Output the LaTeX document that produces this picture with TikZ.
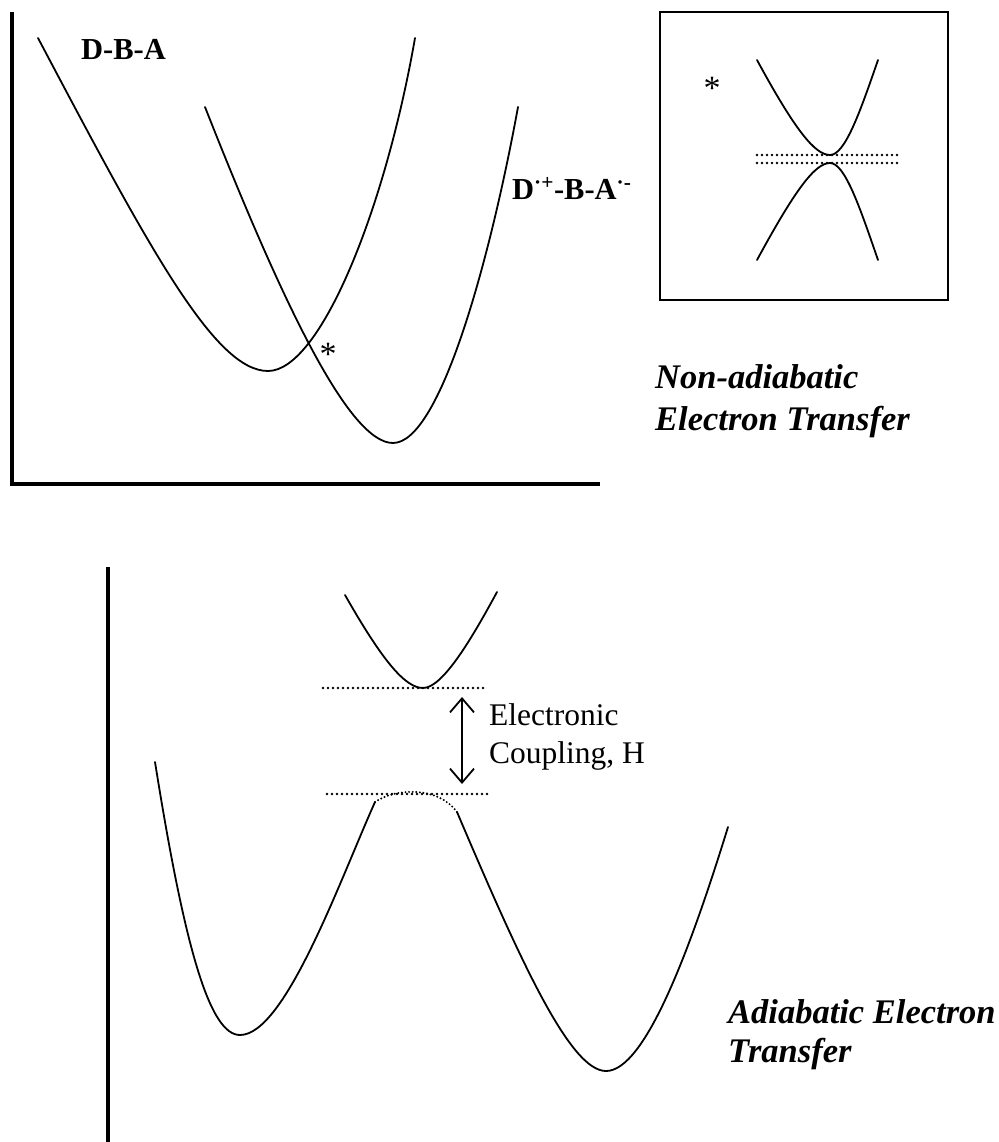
\documentclass[tikz,border=0pt]{standalone}
\usepackage{fontspec}
\setmainfont{Liberation Serif}
\usetikzlibrary{arrows.meta}
\tikzset{
  curve/.style={line width=1.8pt, line join=round, line cap=round},
  axis/.style={line width=3.4pt},
  dots/.style={line width=2.6pt, line cap=round, dash pattern=on 0pt off 5pt},
  lbl/.style={inner sep=0pt, anchor=base west},
  bigtitle/.style={lbl, font=\fontsize{34.5}{42}\selectfont\bfseries\itshape},
  statelbl/.style={lbl, font=\fontsize{30.5}{36}\selectfont\bfseries},
  plain/.style={lbl, font=\fontsize{31.5}{38}\selectfont},
  star/.style={inner sep=0pt, font=\fontsize{34}{38}\selectfont},
  barb/.tip={Straight Barb[length=14pt,width=24pt,line width=1.8pt]}
}
\begin{document}
\begin{tikzpicture}[x=1pt,y=-1pt]
\useasboundingbox (0,0) rectangle (998,1142);

% ---------- top panel ----------
\draw[axis] (12,12) -- (12,484) -- (600,484);

% D-B-A curve
\draw[curve] (38,38) .. controls (150,250) and (215,371) .. (268,371)
  .. controls (320,371) and (385,210) .. (415,38);
% D+-B-A- curve
\draw[curve] (205,107) .. controls (285,310) and (350,443) .. (393,443)
  .. controls (440,443) and (490,260) .. (518,107);

\node[star] (s1) at (328,354) {*};
\node[statelbl] (dba) at (81,60) {D-B-A};
\node[statelbl] (dpba) at (512,199) {D\textsuperscript{·+}-B-A\textsuperscript{·-}};

% inset
\draw[line width=1.8pt] (660,12) rectangle (948,300);
\draw[curve] (757,60) .. controls (795,130) and (815,155) .. (830,155)
  .. controls (845,155) and (860,112) .. (878,60);
\draw[curve] (757,260) .. controls (795,190) and (815,163) .. (830,163)
  .. controls (845,163) and (860,208) .. (878,260);
\draw[dots] (757,155) -- (897,155);
\draw[dots] (757,163) -- (897,163);
\node[star] (s2) at (712,88) {*};

\node[bigtitle] (t1a) at (655,388) {Non-adiabatic};
\node[bigtitle] (t1b) at (655,430) {Electron Transfer};

% ---------- bottom panel ----------
\draw[axis] (108,567) -- (108,1142);

\draw[curve] (345,595) .. controls (382,660) and (405,688) .. (423,688)
  .. controls (442,688) and (470,642) .. (497,592);
\draw[dots] (323,688) -- (487,688);
\draw[dots] (327,794) -- (490,794);

\coordinate (cu) at (462,697);
\coordinate (cl) at (462,784);
\draw[line width=1.8pt, barb-barb] (cu) -- (cl);

\node[plain] (ec1) at (489,725) {Electronic};
\node[plain] (ec2) at (489,763) {Coupling, H};

% double well
\draw[curve] (155,762) .. controls (185,950) and (210,1035) .. (240,1035)
  .. controls (285,1035) and (340,880) .. (375,802);
\draw[line width=2.2pt, line cap=round, dash pattern=on 0pt off 3.6pt] (375,802) .. controls (395,788) and (438,786) .. (457,812);
\draw[curve] (457,812) .. controls (520,960) and (570,1071) .. (606,1071)
  .. controls (645,1071) and (690,950) .. (728,827);

\node[bigtitle] (t2a) at (728,1023) {Adiabatic Electron};
\node[bigtitle] (t2b) at (728,1062) {Transfer};
\end{tikzpicture}
\end{document}
